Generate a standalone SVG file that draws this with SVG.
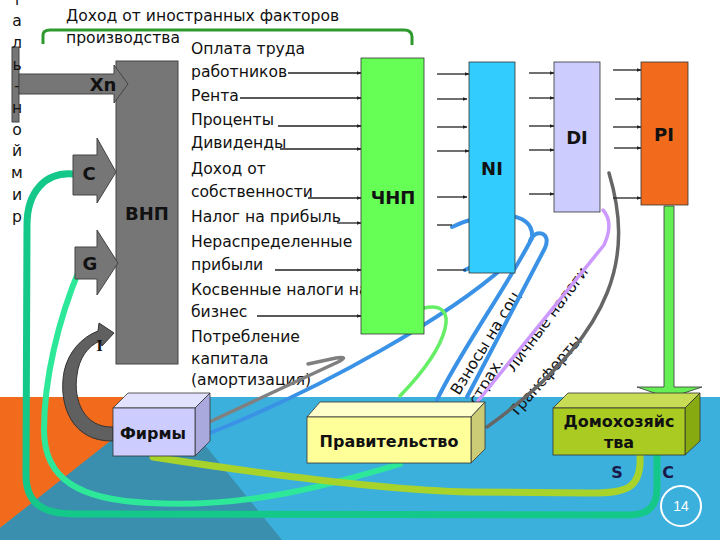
<svg xmlns="http://www.w3.org/2000/svg" width="720" height="540" viewBox="0 0 720 540">
<defs>
<marker id="ah" viewBox="0 0 10 10" refX="9" refY="5" markerWidth="5" markerHeight="5" orient="auto" markerUnits="userSpaceOnUse"><path d="M0,1 L10,5 L0,9 Z" fill="#222"/></marker>
<style>
.t{font-family:"DejaVu Sans","Noto Sans",sans-serif;font-size:15.6px;fill:#111}
.b{font-family:"DejaVu Sans","Noto Sans",sans-serif;font-weight:bold;fill:#111;text-anchor:middle}
.big{font-size:18px}
.box{stroke:#333;stroke-width:0.8}
.ga{fill:#767676;stroke:#444;stroke-width:1}
.c{fill:none;stroke:#222;stroke-width:1.3}
.ca{fill:none;stroke:#222;stroke-width:1.3;marker-end:url(#ah)}
.flow{fill:none;stroke-linecap:round;stroke-linejoin:round}
</style>
</defs>
<!-- background -->
<rect x="0" y="0" width="720" height="540" fill="#ffffff"/>
<rect x="0" y="397" width="720" height="143" fill="#3cb0dc"/>
<polygon points="0,397 170,397 0,528" fill="#f26b1d"/>
<polygon points="166,397 0,528 0,540 282,540" fill="#3a8fae"/>

<!-- top bracket and caption -->
<g id="foreign">
<path d="M43,44 L43,35 Q43,30 50,30 L404,30 Q412,30 412,37 L412,45" fill="none" stroke="#2e9a2e" stroke-width="3"/>
<text class="t" x="66" y="21">Доход от иностранных факторов</text>
<text class="t" x="66" y="43">производства</text>
</g>

<!-- Rest of world vertical text -->
<g id="world">
<rect class="ga" x="12" y="47" width="7" height="75"/>
<g class="t" text-anchor="middle">
<text x="17" y="5">т</text><text x="17" y="26.2">а</text><text x="17" y="47.9">л</text><text x="17" y="69.6">ь</text><text x="17" y="91.3">-</text><text x="17" y="113">н</text><text x="17" y="134.7">о</text><text x="17" y="156.4">й</text><text x="17" y="178.1">м</text><text x="17" y="199.8">и</text><text x="17" y="221.5">р</text>
</g>
</g>

<!-- income labels -->
<g id="labels" class="t">
<text x="191" y="54">Оплата труда</text>
<text x="191" y="77">работников</text>
<text x="191" y="101">Рента</text>
<text x="191" y="125">Проценты</text>
<text x="191" y="148">Дивиденды</text>
<text x="191" y="174">Доход от</text>
<text x="191" y="197">собственности</text>
<text x="191" y="222">Налог на прибыль</text>
<text x="191" y="247">Нераспределенные</text>
<text x="191" y="270">прибыли</text>
<text x="191" y="295">Косвенные налоги на</text>
<text x="191" y="317">бизнес</text>
<text x="191" y="342">Потребление</text>
<text x="191" y="364">капитала</text>
<text x="191" y="385">(амортизация)</text>
</g>

<!-- rotated flow labels -->
<g id="flowlabels" class="t">
<text transform="translate(459,396) rotate(-58.5)">Взносы на соц.</text>
<text transform="translate(477,406) rotate(-58.5)">страх.</text>
<text transform="translate(514,373) rotate(-53.5)">Личные налоги</text>
<text transform="translate(516,418) rotate(-49)">Трансферты</text>
</g>

<!-- connectors -->
<g id="connectors">
<path class="flow" d="M73,174 C45,172 27,192 27,225 L26,475 C26,505 45,514 75,514 L628,515 C650,515 657,505 657,488 L657,455" stroke="#14c88a" stroke-width="7"/>
<path class="flow" d="M80,268 C58,320 44,380 44,430 C44,480 80,500 150,503 C250,508 330,485 400,464" stroke="#2ee89a" stroke-width="6"/>
<path class="flow" d="M640,455 C642,490 625,493 590,493 L470,492 C380,490 250,472 153,457" stroke="#a8d32a" stroke-width="7"/>
<path class="flow" d="M452,227 C485,211 535,208 532,238 C508,285 458,355 437,400" stroke="#3a92e6" stroke-width="4"/>
<path class="flow" d="M530,241 C535,228 552,232 545,248 L467,397" stroke="#3a92e6" stroke-width="4"/>
<path class="flow" d="M465,270 C485,260 510,256 505,266 C450,315 330,385 210,433" stroke="#3a92e6" stroke-width="4"/>
<path class="flow" d="M603,210 C612,220 610,232 604,245 L478,401" stroke="#cc99ff" stroke-width="3.5"/>
<path class="flow" d="M609,173 C632,250 622,330 487,427" stroke="#666666" stroke-width="3.5"/>
<path class="flow" d="M424,308 C460,300 452,342 400,396" stroke="#66ee66" stroke-width="3.5"/>
<path class="flow" d="M205,424 L338,362 Q350,356 336,358 L308,364" stroke="#808080" stroke-width="3.5"/>
<!-- label to ЧНП -->
<line class="ca" x1="288" y1="73" x2="361" y2="73"/>
<line class="ca" x1="240" y1="98" x2="361" y2="98"/>
<line class="ca" x1="278" y1="126" x2="361" y2="126"/>
<line class="ca" x1="280" y1="149" x2="361" y2="149"/>
<line class="ca" x1="308" y1="198" x2="361" y2="198"/>
<line class="ca" x1="337" y1="223" x2="361" y2="223"/>
<line class="ca" x1="275" y1="270" x2="361" y2="270"/>
<line class="ca" x1="257" y1="316" x2="361" y2="316"/>
<!-- ЧНП to NI -->
<line class="ca" x1="437" y1="74" x2="469" y2="74"/>
<line class="ca" x1="437" y1="99" x2="467" y2="99"/>
<line class="ca" x1="437" y1="127" x2="467" y2="127"/>
<line class="ca" x1="437" y1="151" x2="469" y2="151"/>
<line class="ca" x1="437" y1="197" x2="467" y2="197"/>
<line class="c" x1="437" y1="225" x2="452" y2="225"/>
<line class="c" x1="437" y1="270" x2="466" y2="270"/>
<!-- NI to DI -->
<line class="ca" x1="529" y1="73" x2="554" y2="73"/>
<line class="ca" x1="529" y1="98" x2="554" y2="98"/>
<line class="ca" x1="529" y1="126" x2="554" y2="126"/>
<line class="ca" x1="529" y1="150" x2="554" y2="150"/>
<line class="ca" x1="529" y1="194" x2="554" y2="194"/>
<!-- DI to PI -->
<line class="ca" x1="613" y1="70" x2="641" y2="70"/>
<line class="ca" x1="615" y1="99" x2="641" y2="99"/>
<line class="ca" x1="613" y1="127" x2="641" y2="127"/>
<line class="ca" x1="614" y1="148" x2="641" y2="148"/>
<line class="ca" x1="613" y1="198" x2="641" y2="198"/>
<!-- PI to households -->
<path d="M664,206 L674,206 L674,387 L702,387 L669,398 L637,387 L664,387 Z" fill="#66ee55" stroke="#333" stroke-width="0.8"/>
</g>

<!-- GNP -->
<g id="vnp">
<rect class="ga" x="116" y="61" width="62" height="303"/>
<text class="b big" x="147" y="220">ВНП</text>
</g>
<g id="xn">
<polygon class="ga" points="19,74 114,74 114,65 128,84 114,103 114,94 19,94"/>
<text class="b big" x="103" y="91">Xn</text>
</g>
<g id="c-arrow">
<polygon class="ga" points="73,155 97,155 97,138 116,172 97,203 97,195 73,195"/>
<text class="b big" x="89" y="180">С</text>
</g>
<g id="g-arrow">
<polygon class="ga" points="75,247 97,247 97,230 118,263 97,295 97,279 75,279"/>
<text class="b big" x="90" y="270">G</text>
</g>
<g id="i-arrow">
<path d="M113,441 C72,442 58,405 64,372 C68,352 82,337 98,331 L99,323 L114,333 L102,346 L100,341 C88,346 79,358 77,375 C73,400 84,428 113,427 Z" fill="#606060" stroke="#333" stroke-width="1"/>
<text x="99.5" y="351" font-family="Liberation Serif, serif" font-weight="bold" font-size="17" text-anchor="middle" fill="#111">I</text>
</g>

<g id="chnp">
<rect class="box" x="361" y="58" width="63" height="276" fill="#66ff55"/>
<text class="b big" x="393" y="204">ЧНП</text>
</g>
<g id="ni">
<rect class="box" x="469" y="62" width="46" height="211" fill="#33ccff"/>
<text class="b big" x="492" y="175">NI</text>
</g>
<g id="di">
<rect class="box" x="554" y="62" width="46" height="150" fill="#ccccff"/>
<text class="b big" x="577" y="144">DI</text>
</g>
<g id="pi">
<rect class="box" x="641" y="62" width="47" height="143" fill="#f26b1d"/>
<text class="b big" x="664" y="141">PI</text>
</g>

<g id="firms">
<polygon class="box" points="113,408 128,393 210,393 195,408" fill="#e2e2ff"/>
<polygon class="box" points="195,408 210,393 210,441 195,456" fill="#a9a9dd"/>
<rect class="box" x="113" y="408" width="82" height="48" fill="#ccccff"/>
<text class="b" x="153" y="439" font-size="16">Фирмы</text>
</g>
<g id="government">
<polygon class="box" points="307,417 320,402 485,402 471,417" fill="#ffffcc"/>
<polygon class="box" points="471,417 485,402 485,449 471,463" fill="#cccc77"/>
<rect class="box" x="307" y="417" width="164" height="46" fill="#ffff99"/>
<text class="b" x="389" y="447" font-size="16">Правительство</text>
</g>
<g id="households">
<polygon class="box" points="553,408 568,393 700,393 685,408" fill="#c8dd55"/>
<polygon class="box" points="685,408 700,393 700,441 685,455" fill="#88aa11"/>
<rect class="box" x="553" y="408" width="132" height="47" fill="#aacc22"/>
<text class="b" x="619" y="427" font-size="16">Домохозяйс</text>
<text class="b" x="619" y="448" font-size="16">тва</text>
</g>
<g id="sc" class="b" font-size="16">
<text x="617" y="478" fill="#1a1a4a">S</text>
<text x="668" y="478" fill="#1a1a4a">C</text>
</g>
<g id="page">
<circle cx="681" cy="506" r="20" fill="none" stroke="#ffffff" stroke-width="2"/>
<text x="681" y="511" font-family="Liberation Sans, sans-serif" font-size="14" fill="#ffffff" text-anchor="middle">14</text>
</g>
</svg>
